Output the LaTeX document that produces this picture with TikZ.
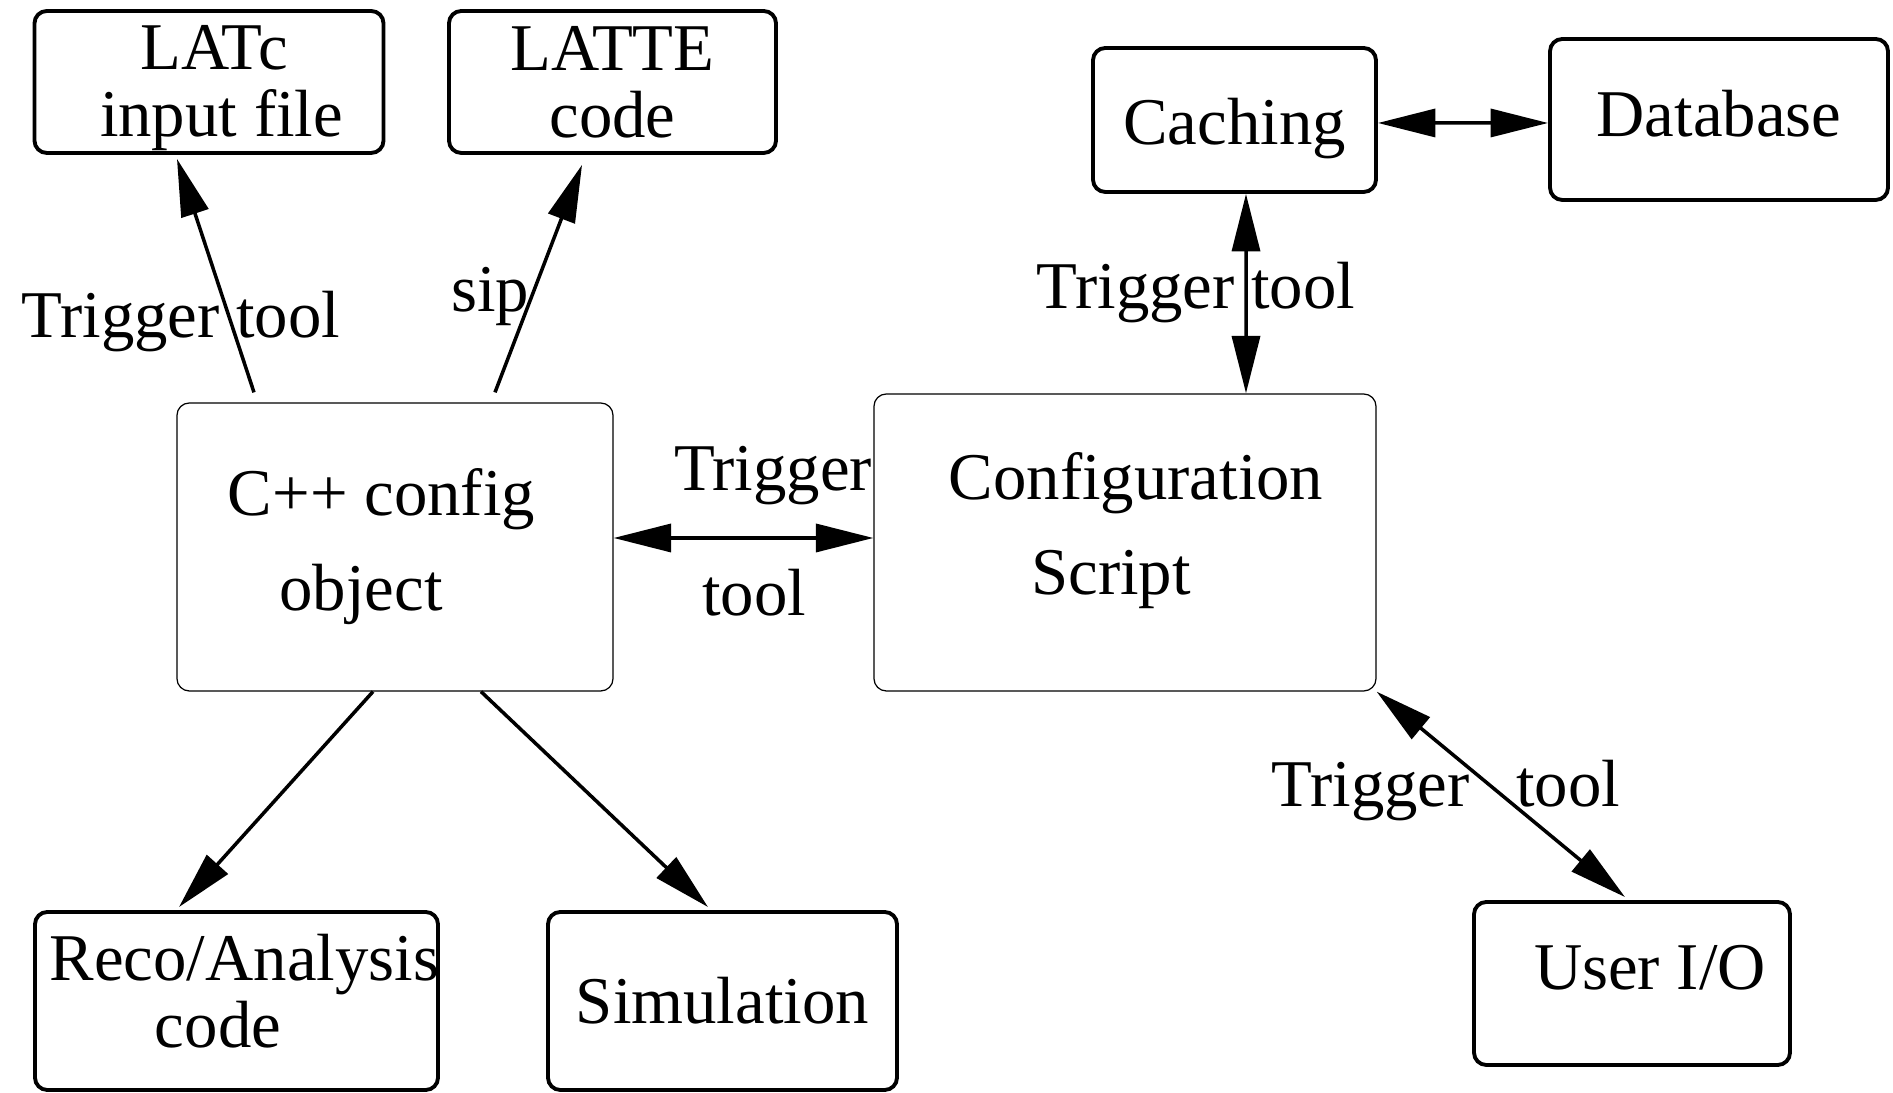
\documentclass[tikz,border=0pt]{standalone}
\usepackage{fontspec}
\setmainfont{Liberation Serif}
\usetikzlibrary{arrows.meta,positioning,calc}

\begin{document}
\begin{tikzpicture}[
  font=\fontsize{38}{38}\selectfont,
  b/.style={draw,line width=2.2pt,rounded corners=7pt,inner sep=0pt,align=center},
  bt/.style={b,line width=0.7pt},
  tx/.style={align=center,inner sep=0pt},
  a/.style={line width=2pt,-{Triangle[length=11.5mm,width=5.6mm]}},
  aa/.style={line width=2pt,{Triangle[length=11.5mm,width=5.6mm]}-{Triangle[length=11.5mm,width=5.6mm]}},
  lb/.style={anchor=base,inner sep=0pt}]
\useasboundingbox (0,0) rectangle (37.86,21.86);
% top row
\node[b,minimum width=6.98cm,minimum height=2.84cm,
  label={[tx,xshift=0.1cm,yshift=-0.12cm]center:LATc\\\hspace*{0.3cm}input file}] (latc) at (4.18,20.22) {};
\node[b,minimum width=6.54cm,minimum height=2.84cm] (latte) at (12.25,20.22) {LATTE\\code};
\node[b,minimum width=5.66cm,minimum height=2.88cm,
  label={[tx,yshift=-0.17cm]center:Caching}] (cach) at (24.69,19.46) {};
\node[b,minimum width=6.76cm,minimum height=3.22cm,
  label={[tx,yshift=0.12cm]center:Database}] (dbase) at (34.38,19.47) {};
% middle
\node[bt,minimum width=8.72cm,minimum height=5.76cm,
  label={[tx,xshift=-0.27cm]center:C++ config\\[16pt]object\hspace*{0.82cm}}] (cpp) at (7.90,10.92) {};
\node[bt,minimum width=10.04cm,minimum height=5.94cm,
  label={[tx,xshift=0.22cm,yshift=0.24cm]center:Configuration\\[16pt]Script\hspace*{1cm}}] (script) at (22.50,11.01) {};
% bottom row
\node[b,minimum width=8.06cm,minimum height=3.56cm,
  label={[tx,xshift=0.16cm,yshift=0.19cm]center:Reco/Analysis\\code\hspace*{1.06cm}}] (reco) at (4.73,1.84) {};
\node[b,minimum width=6.98cm,minimum height=3.56cm] (sim) at (14.45,1.84) {Simulation};
\node[b,minimum width=6.32cm,minimum height=3.26cm,
  label={[tx,xshift=0.36cm,yshift=0.31cm]center:User I/O}] (userio) at (32.64,2.19) {};
% arrows
\draw[a] ([xshift=-2.82cm,yshift=0.2cm]cpp.north) -- ([xshift=-0.64cm,yshift=-0.08cm]latc.south);
\draw[a] ([xshift=2.0cm,yshift=0.2cm]cpp.north) -- ([xshift=-0.61cm,yshift=-0.2cm]latte.south);
\draw[aa] ([yshift=0.18cm]cpp.east) -- ([yshift=0.09cm]script.west);
\draw[aa] ([xshift=0.23cm]cach.south) -- ([xshift=2.42cm]script.north);
\draw[aa] ([yshift=-0.06cm]cach.east) -- ([yshift=-0.07cm]dbase.west);
\draw[a] ([xshift=-0.44cm]cpp.south) -- ([xshift=-1.15cm,yshift=0.06cm]reco.north);
\draw[a] ([xshift=1.72cm]cpp.south) -- ([xshift=-0.29cm,yshift=0.06cm]sim.north);
\draw[aa] (script.south east) -- ([xshift=-0.14cm,yshift=0.06cm]userio.north);
% arrow labels
\node[lb] (tlatc) at (3.62,15.10) {Trigger tool};
\node[lb] (tsip) at (9.80,15.63) {sip};
\node[lb] (tcach) at (23.92,15.68) {Trigger tool};
\node[lb] (tmid1) at (15.46,12.04) {Trigger};
\node[lb] (tmid2) at (15.08,9.54) {tool};
\node[lb] (tuser) at (28.92,5.73) {Trigger\hspace{0.7em}tool};
\end{tikzpicture}
\end{document}
